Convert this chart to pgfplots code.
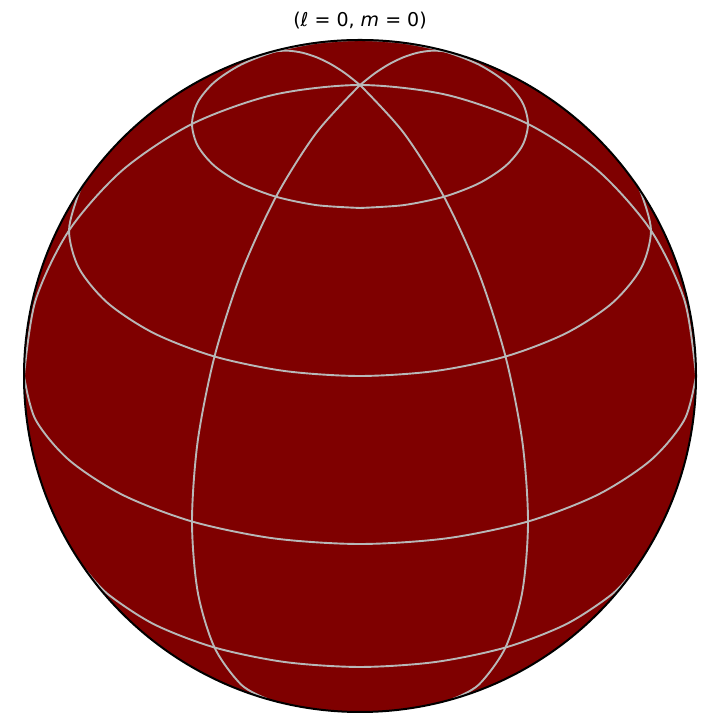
\documentclass[border=0pt]{standalone}
\usepackage{pgfplots}
\pgfplotsset{compat=1.18}
\usepackage{fontspec}
\setmainfont{DejaVu Sans}
\definecolor{diskred}{RGB}{127,0,0}
\definecolor{gridgray}{RGB}{184,184,184}
\begin{document}
\begin{tikzpicture}
\begin{axis}[
  width=720bp, height=720bp, scale only axis,
  xmin=-1.0714, xmax=1.0714, ymin=-1.0238, ymax=1.1190,
  hide axis, clip=false,
  grat/.style={draw=gridgray, line width=1.9bp, smooth, mark=none, solid},
]
\coordinate (bl) at (rel axis cs:0,0);
\coordinate (tr) at (rel axis cs:1,1);
\fill[diskred] (axis cs:0,0) circle[radius=336bp];
% parallel 60
\addplot[grat] coordinates {(0,0.5) (0.1294,0.5085) (0.25,0.5335) (0.3536,0.5732) (0.4330,0.625) (0.4830,0.6853) (0.5,0.75) (0.4830,0.8147) (0.4330,0.875) (0.3536,0.9268) (0.25,0.9665) (0.1294,0.9915) (0,1.0) (-0.1294,0.9915) (-0.25,0.9665) (-0.3536,0.9268) (-0.4330,0.875) (-0.4830,0.8147) (-0.5,0.75) (-0.4830,0.6853) (-0.4330,0.625) (-0.3536,0.5732) (-0.25,0.5335) (-0.1294,0.5085) (0,0.5)};
% parallel 30
\addplot[grat] coordinates {(-0.8165,0.5774) (-0.8365,0.5451) (-0.866,0.433) (-0.8365,0.3209) (-0.75,0.2165) (-0.6124,0.1268) (-0.4330,0.0580) (-0.2241,0.0148) (0,0) (0.2241,0.0148) (0.4330,0.0580) (0.6124,0.1268) (0.75,0.2165) (0.8365,0.3209) (0.866,0.433) (0.8365,0.5451) (0.8165,0.5774)};
% equator
\addplot[grat] coordinates {(-1,0) (-0.9659,-0.1294) (-0.8660,-0.25) (-0.7071,-0.3536) (-0.5,-0.4330) (-0.2588,-0.4830) (0,-0.5) (0.2588,-0.4830) (0.5,-0.4330) (0.7071,-0.3536) (0.8660,-0.25) (0.9659,-0.1294) (1,0)};
% parallel -30
\addplot[grat] coordinates {(-0.8165,-0.5774) (-0.75,-0.6495) (-0.6124,-0.7392) (-0.4330,-0.8080) (-0.2241,-0.8512) (0,-0.866) (0.2241,-0.8512) (0.4330,-0.8080) (0.6124,-0.7392) (0.75,-0.6495) (0.8165,-0.5774)};
% meridian +30
\addplot[grat] coordinates {(0,0.866) (0.1294,0.7244) (0.25,0.5335) (0.3536,0.3062) (0.4330,0.058) (0.4830,-0.1941) (0.5,-0.433) (0.4830,-0.6424) (0.4330,-0.808) (0.3536,-0.9186) (0.2774,-0.9608)};
% meridian -30
\addplot[grat] coordinates {(0,0.866) (-0.1294,0.7244) (-0.25,0.5335) (-0.3536,0.3062) (-0.4330,0.058) (-0.4830,-0.1941) (-0.5,-0.433) (-0.4830,-0.6424) (-0.4330,-0.808) (-0.3536,-0.9186) (-0.2774,-0.9608)};
% meridians +-90
\addplot[grat] coordinates {(1,0) (0.9659,0.2241) (0.866,0.433) (0.7071,0.6124) (0.5,0.75) (0.2588,0.8365) (0,0.866) (-0.2588,0.8365) (-0.5,0.75) (-0.7071,0.6124) (-0.866,0.433) (-0.9659,0.2241) (-1,0)};
% meridians +-150
\addplot[grat] coordinates {(0.2774,0.9608) (0.25,0.9665) (0.2113,0.9679) (0.1710,0.9619) (0.1294,0.9486) (0.0868,0.9281) (0.0436,0.9005) (0,0.866)};
\addplot[grat] coordinates {(-0.2774,0.9608) (-0.25,0.9665) (-0.2113,0.9679) (-0.1710,0.9619) (-0.1294,0.9486) (-0.0868,0.9281) (-0.0436,0.9005) (0,0.866)};
\draw[black, line width=2bp] (axis cs:0,0) circle[radius=336bp];
\node[anchor=base, font=\fontsize{19bp}{22bp}\selectfont, inner sep=0pt] at (axis cs:0,1.0387) {(\textit{ℓ} = 0, \textit{m} = 0)};
\end{axis}
\pgfresetboundingbox
\path (bl) rectangle (tr);
\end{tikzpicture}
\end{document}
